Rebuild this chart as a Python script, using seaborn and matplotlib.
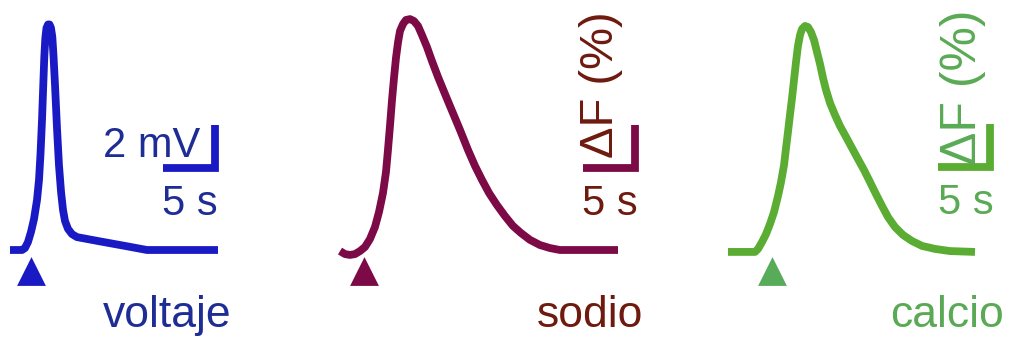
import matplotlib
matplotlib.use("Agg")
import matplotlib.pyplot as plt
import seaborn as sns
import pandas as pd

# ---------------- data (time in s, amplitude in scale-bar units) ----------------
volt_t = [0.96, 2.12, 2.40, 2.69, 2.98, 3.27, 3.56, 3.75, 3.89, 4.04,
          4.16, 4.26, 4.36, 4.47, 4.62, 4.76, 4.90, 5.03, 5.14, 5.29,
          5.48, 5.67, 5.87, 6.06, 6.25, 6.54, 6.92, 7.40, 9.62, 12.02,
          14.13, 20.96]
volt_v = [0, 0, 0.09, 0.37, 0.84, 1.44, 2.33, 3.26, 4.42, 6.05,
          7.67, 8.98, 9.86, 10.33, 10.49, 10.49, 10.33, 9.91, 9.07, 7.67,
          5.67, 3.95, 2.70, 1.86, 1.35, 0.98, 0.74, 0.60, 0.40, 0.19,
          0, 0]

na_t = [0.29, 0.77, 1.25, 1.73, 2.21, 2.69, 3.17, 3.65, 4.04, 4.42,
        4.71, 4.90, 5.10, 5.29, 5.48, 5.67, 5.87, 6.06, 6.35, 6.63,
        7.02, 7.40, 7.79, 8.17, 8.65, 9.13, 9.71, 10.38, 11.06, 11.83,
        12.60, 13.27, 13.94, 14.62, 15.38, 16.15, 16.92, 17.69, 18.56, 19.52,
        20.48, 21.44, 22.40, 27.02]
na_v = [-0.05, -0.19, -0.23, -0.19, -0.05, 0.14, 0.51, 1.07, 1.77, 2.65,
        3.63, 4.65, 5.81, 6.98, 8.0, 8.93, 9.67, 10.19, 10.51, 10.70,
        10.74, 10.65, 10.42, 10.0, 9.44, 8.79, 8.05, 7.26, 6.47, 5.58,
        4.65, 3.91, 3.26, 2.65, 2.09, 1.58, 1.12, 0.79, 0.47, 0.23,
        0.09, 0, 0, 0]

ca_t = [5.19, 7.79, 8.08, 8.46, 8.85, 9.23, 9.62, 10.0, 10.29, 10.58,
        10.77, 10.96, 11.15, 11.35, 11.54, 11.73, 11.92, 12.12, 12.31, 12.60,
        12.88, 13.17, 13.46, 13.75, 14.04, 14.33, 14.62, 15.0, 15.48, 15.96,
        16.54, 17.12, 17.69, 18.27, 18.85, 19.42, 20.0, 20.58, 21.25, 22.02,
        22.88, 23.85, 25.10, 26.54, 28.94]
ca_v = [-0.09, -0.09, 0.05, 0.37, 0.74, 1.21, 1.77, 2.51, 3.16, 3.95,
        4.74, 5.49, 6.28, 7.07, 7.91, 8.74, 9.49, 10.0, 10.28, 10.42,
        10.37, 10.14, 9.77, 9.21, 8.65, 8.0, 7.44, 6.84, 6.28, 5.77,
        5.26, 4.74, 4.23, 3.72, 3.16, 2.60, 2.05, 1.53, 1.07, 0.70,
        0.42, 0.19, 0.05, -0.05, -0.09]

stim_t = [2.98, 2.6, 9.42]          # stimulus (triangle) time per panel
names = ["voltaje", "sodio", "calcio"]
amp_labels = ["2 mV", "\u0394F (%)", "\u0394F (%)"]
time_label = "5 s"
scale_time = 5      # s
scale_amp = 2       # units

line_colors = ["#1a1ac4", "#7b0a46", "#5aac32"]
tri_colors = ["#1a1ac4", "#7b0a46", "#58ab58"]
text_colors = ["#1e2d96", "#6e1a0e", "#5aaa55"]

# ---------------- layout ----------------
W, H = 1011, 337
PX_S = 10.4      # pixels per second
PX_U = 21.5      # pixels per amplitude unit
BASE_Y = 250     # baseline pixel row
PANEL_W = 337
lefts = [0, 337, 674]
LW = 5.6

sns.set_theme(style="white")
plt.rcParams["font.family"] = ["Liberation Sans", "DejaVu Sans"]

fig = plt.figure(figsize=(W / 100, H / 100), dpi=100)


def px(xp, yp, L):
    return (xp - L) / PX_S, (BASE_Y - yp) / PX_U


traces = [(volt_t, volt_v), (na_t, na_v), (ca_t, ca_v)]
layout = [
    dict(corner=(215, 168), amp=(200, 157), amp_fs=30, time=(218, 215), name=(231, 327)),
    dict(corner=(635, 168), amp=(623, 158), amp_fs=34, time=(638, 215), name=(643, 327)),
    dict(corner=(990, 167), amp=(986, 165), amp_fs=36, time=(994, 214), name=(1004, 327)),
]

for i in range(3):
    L = lefts[i]
    ax = fig.add_axes([L / W, 0, PANEL_W / W, 1])
    ax.set_xlim(0, PANEL_W / PX_S)
    ax.set_ylim(-(H - BASE_Y) / PX_U, BASE_Y / PX_U)
    ax.axis("off")

    t, v = traces[i]
    df = pd.DataFrame({"t": t, "v": v})
    sns.lineplot(data=df, x="t", y="v", ax=ax, color=line_colors[i],
                 linewidth=LW, estimator=None, sort=False,
                 solid_joinstyle="round", solid_capstyle="butt")

    sdf = pd.DataFrame({"t": [stim_t[i]], "y": [px(0, 271, 0)[1]]})
    sns.scatterplot(data=sdf, x="t", y="y", ax=ax, marker="^", s=430,
                    color=tri_colors[i], linewidth=0, clip_on=False)

    lay = layout[i]
    cx, cy = px(*lay["corner"], L)
    ax.plot([cx - scale_time, cx, cx], [cy, cy, cy + scale_amp],
            color=line_colors[i], linewidth=LW, solid_joinstyle="miter",
            solid_capstyle="butt", clip_on=False)

    ax_, ay_ = px(*lay["amp"], L)
    if i == 0:
        ax.text(ax_, ay_, amp_labels[i], color=text_colors[i], fontsize=lay["amp_fs"],
                ha="right", va="baseline")
    else:
        ax.text(ax_, ay_, amp_labels[i], color=text_colors[i], fontsize=lay["amp_fs"],
                ha="right", va="bottom", rotation=90)

    tx, ty = px(*lay["time"], L)
    ax.text(tx, ty, time_label, color=text_colors[i], fontsize=30,
            ha="right", va="baseline")

    nx, ny = px(*lay["name"], L)
    ax.text(nx, ny, names[i], color=text_colors[i], fontsize=32,
            ha="right", va="baseline")

fig.savefig("out.png", dpi=100, facecolor="white")
